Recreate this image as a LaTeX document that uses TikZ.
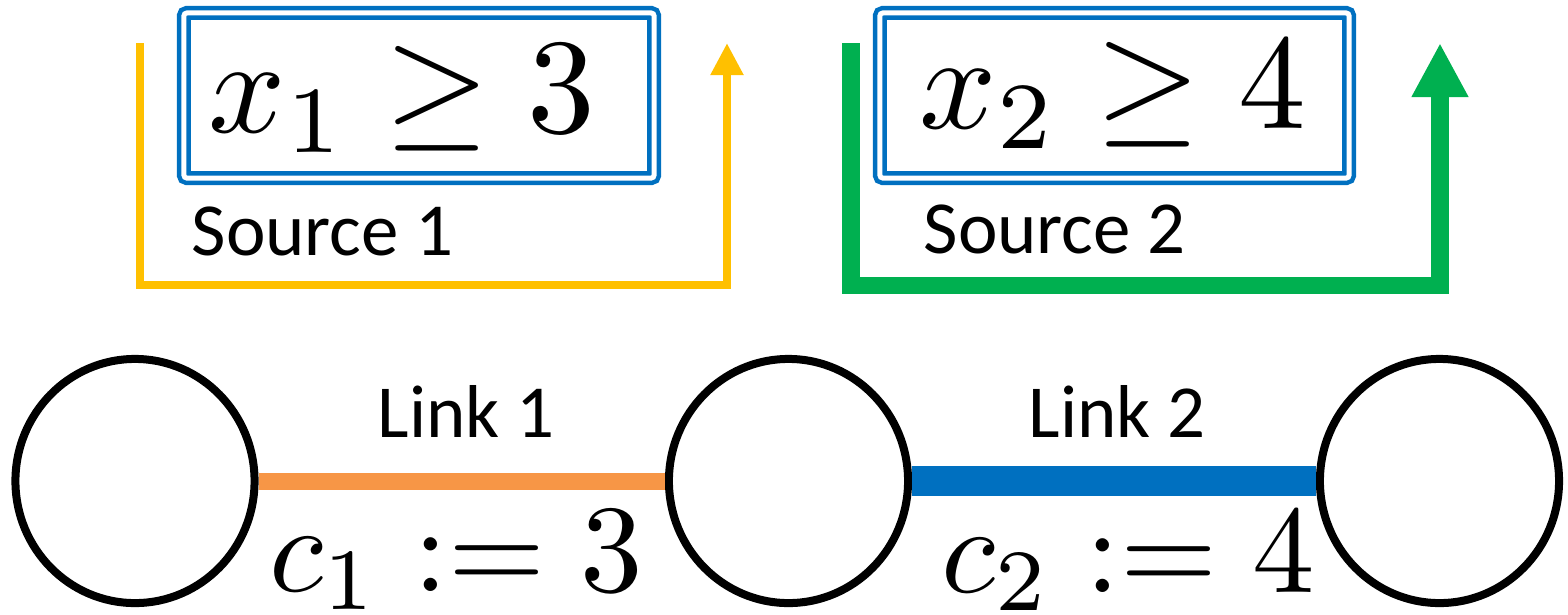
\documentclass[tikz,border=0pt]{standalone}
\usepackage[no-math]{fontspec}
\newfontfamily\calibri{Carlito}
\usetikzlibrary{arrows.meta,shapes.geometric}
\definecolor{srcyellow}{HTML}{FFC000}
\definecolor{srcgreen}{HTML}{00B050}
\definecolor{linkorange}{HTML}{F79646}
\definecolor{linkblue}{HTML}{0070C0}
\tikzset{
  router/.style={draw=black, line width=0.08cm, ellipse, minimum width=2.39cm, minimum height=2.44cm, inner sep=0pt},
  demandbox/.style={draw=linkblue, double=white, line width=0.045cm, double distance=0.05cm,
    rounded corners=0.03cm, rectangle, inner sep=0pt},
  calibrilabel/.style={inner sep=0pt, anchor=base west, font=\calibri\fontsize{21.3}{25}\selectfont},
  bigmath/.style={inner sep=0pt, anchor=base, font=\normalsize, scale=3.85},
  capmath/.style={inner sep=0pt, anchor=base, font=\normalsize, scale=3.55},
  flowone/.style={draw=srcyellow, line width=0.085cm, -{Triangle[length=0.32cm, width=0.31cm]}},
  flowtwo/.style={draw=srcgreen, line width=0.17cm, -{Triangle[length=0.54cm, width=0.53cm]}},
  linkone/.style={draw=linkorange, line width=0.17cm},
  linktwo/.style={draw=linkblue, line width=0.30cm},
}
\begin{document}
\begin{tikzpicture}[x=0.01cm, y=-0.01cm]
  \useasboundingbox (0,0) rectangle (1568,614);

  % demand boxes
  \node[demandbox, minimum width=4.70cm, minimum height=1.65cm] (box1) at (419,95.5) {};
  \node[demandbox, minimum width=4.69cm, minimum height=1.65cm] (box2) at (1114.5,95.5) {};
  \node[bigmath] (eq1) at (402,132) {$x_1 \geq 3$};
  \node[bigmath] (eq2) at (1113,128.5) {$x_2 \geq 4$};

  % source flows
  \coordinate (s1a) at (140,43);
  \coordinate (s1b) at (140,285);
  \coordinate (s1c) at (727,285);
  \coordinate (s1d) at (727,43);
  \draw[flowone] (s1a) -- (s1b) -- (s1c) -- (s1d);
  \node[calibrilabel] (src1) at (191,255) {Source 1};

  \coordinate (s2a) at (851,43);
  \coordinate (s2b) at (851,285);
  \coordinate (s2c) at (1440,285);
  \coordinate (s2d) at (1440,43);
  \draw[flowtwo] (s2a) -- (s2b) -- (s2c) -- (s2d);
  \node[calibrilabel] (src2) at (923,253) {Source 2};

  % network
  \node[router] (n1) at (135,481) {};
  \node[router] (n2) at (788.5,481) {};
  \node[router] (n3) at (1439.5,481) {};
  \draw[linkone] (n1.east) -- (n2.west);
  \draw[linktwo] (n2.east) -- (n3.west);

  \node[calibrilabel] (lab1) at (377,437) {Link 1};
  \node[calibrilabel] (lab2) at (1028,437) {Link 2};
  \node[capmath] (cap1) at (456,591) {$c_1 := 3$};
  \node[capmath] (cap2) at (1128,592) {$c_2 := 4$};
\end{tikzpicture}
\end{document}
